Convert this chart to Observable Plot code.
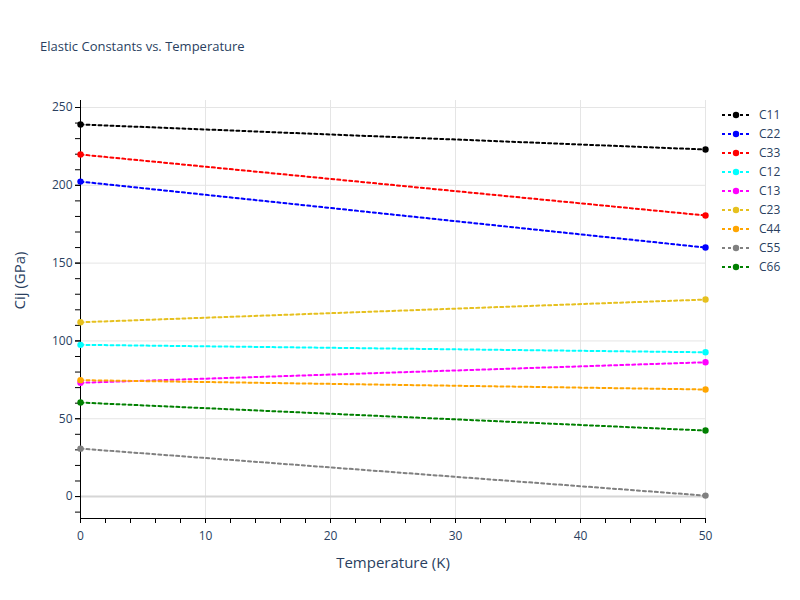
<!DOCTYPE html>
<html>
<head>
<meta charset="utf-8">
<script src="https://cdn.jsdelivr.net/npm/d3@7"></script>
<script src="https://cdn.jsdelivr.net/npm/@observablehq/plot@0.6"></script>
<style>
  body { margin: 0; background: #fff; }
  #wrap { position: relative; width: 800px; height: 600px; font-family: "Open Sans", sans-serif; }
  #title { position: absolute; left: 40px; top: 37px; font-size: 13px; color: #2a3f5f; }
  #legend { position: absolute; left: 722px; top: 105px; font-size: 12px; color: #2a3f5f; }
  .row { height: 19px; display: flex; align-items: center; }
  .row svg { margin-right: 7px; }
</style>
</head>
<body>
<div id="wrap">
  <div id="chart"></div>
  <div id="title">Elastic Constants vs. Temperature</div>
  <div id="legend"></div>
</div>
<script>
const temps = [0, 50];
const seriesNames = ["C11", "C22", "C33", "C12", "C13", "C23", "C44", "C55", "C66"];
const seriesColors = ["black", "blue", "red", "cyan", "magenta", "#e6c01e", "orange", "gray", "green"];
const valuesAt0 = [239.1, 202.4, 219.8, 97.5, 73.1, 112.0, 74.8, 30.8, 60.4];
const valuesAt50 = [223.0, 160.0, 180.6, 92.7, 86.3, 126.6, 68.8, 0.6, 42.4];
const xTicks = [0, 10, 20, 30, 40, 50];
const yTicks = [0, 50, 100, 150, 200, 250];
const xTitle = "Temperature (K)";
const yTitle = "Cij (GPa)";

const data = [];
seriesNames.forEach((s, i) => {
  data.push({s, T: temps[0], v: valuesAt0[i]});
  data.push({s, T: temps[1], v: valuesAt50[i]});
});

const ink = "#2a3f5f";
const chart = Plot.plot({
  width: 800,
  height: 600,
  marginLeft: 80,
  marginRight: 95,
  marginTop: 100,
  marginBottom: 82,
  style: { fontFamily: "Open Sans, sans-serif", fontSize: "12px", color: ink, background: "#fff" },
  x: { domain: [0, 50], label: null },
  y: { domain: [-14.1, 254.5], label: null },
  color: { domain: seriesNames, range: seriesColors },
  marks: [
    Plot.gridX(xTicks, { stroke: "#e5e5e5", strokeOpacity: 1 }),
    Plot.gridY(yTicks.filter(d => d !== 0), { stroke: "#e5e5e5", strokeOpacity: 1 }),
    Plot.ruleY([0], { stroke: "#d6d6d6", strokeWidth: 2 }),
    Plot.axisX(d3.range(0, 51, 2), { tickSize: 5, tickFormat: () => "", stroke: "black", label: null }),
    Plot.axisX(xTicks, { tickSize: 5, tickPadding: 8, label: null, stroke: "black", fill: ink }),
    Plot.axisY(d3.range(-10, 251, 10), { tickSize: 5, tickFormat: () => "", stroke: "black", label: null }),
    Plot.axisY(yTicks, { tickSize: 5, tickPadding: 3, label: null, stroke: "black", fill: ink }),
    Plot.frame({ anchor: "left", stroke: "black" }),
    Plot.frame({ anchor: "bottom", stroke: "black" }),
    Plot.line(data, { x: "T", y: "v", z: "s", stroke: "s", strokeWidth: 2, strokeDasharray: "3,3" }),
    Plot.dot(data, { x: "T", y: "v", fill: "s", r: 3.2 }),
    Plot.text([xTitle], { frameAnchor: "bottom", lineAnchor: "middle", dy: 45, fontSize: 15, fill: ink }),
    Plot.text([yTitle], { frameAnchor: "left", lineAnchor: "middle", rotate: -90, dx: -60, fontSize: 15, fill: ink })
  ]
});
document.getElementById("chart").appendChild(chart);

const legend = document.getElementById("legend");
seriesNames.forEach((s, i) => {
  const row = document.createElement("div");
  row.className = "row";
  const c = seriesColors[i];
  row.innerHTML = `<svg width="30" height="10"><line x1="0" y1="5" x2="28" y2="5" stroke="${c}" stroke-width="2" stroke-dasharray="3,3"/><circle cx="14" cy="5" r="3.2" fill="${c}"/></svg><span>${s}</span>`;
  legend.appendChild(row);
});
</script>
</body>
</html>
